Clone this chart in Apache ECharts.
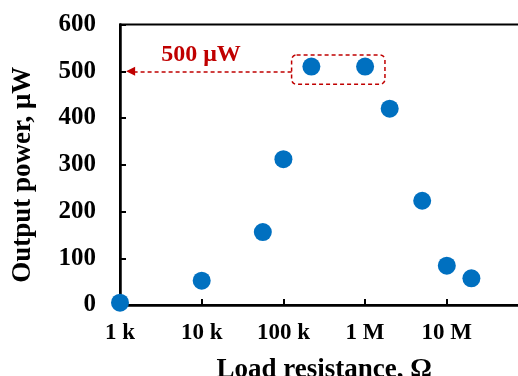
<!DOCTYPE html>
<html><head><meta charset="utf-8">
<script src="https://cdn.jsdelivr.net/npm/echarts@6/dist/echarts.min.js"></script>
<style>html,body{margin:0;padding:0;background:#fff}#c{width:518px;height:376px}</style>
</head><body><div id="c"></div>
<script>
// Data
const resistance = [1e3, 1e4, 5.6e4, 1e5, 2.2e5, 1e6, 2e6, 5e6, 1e7, 2e7];
const power = [5, 52, 156, 312, 510, 510, 420, 223, 84, 57];
const xTickValues = [1e3, 1e4, 1e5, 1e6, 1e7];
const xTickLabels = ['1 k', '10 k', '100 k', '1 M', '10 M'];
const yTickLabels = ['0', '100', '200', '300', '400', '500', '600'];
const annotationText = '500 \u03bcW';
const annotationLevel = 500;
const boxRange = { x: [1.26e5, 1.75e6], y: [472, 535] };
const arrowRange = [1.26e5, 1.35e3];
const textAnchor = [9.8e3, 535];

const font = 'Liberation Serif, Times New Roman, serif';
const red = '#C00000';
const chart = echarts.init(document.getElementById('c'), null, { renderer: 'canvas' });

chart.setOption({
  animation: false,
  backgroundColor: '#fff',
  grid: { left: 120, top: 24.5, width: 408.5, height: 280.5, show: true, borderColor: '#000', borderWidth: 2, containLabel: false, outerBoundsMode: 'none' },
  xAxis: {
    type: 'log', logBase: 10, min: 1e3, max: 1e8,
    name: 'Load resistance, \u03a9', nameLocation: 'middle', nameGap: 52,
    nameTextStyle: { fontFamily: font, fontWeight: 'bold', fontSize: 27, color: '#000' },
    axisLine: { lineStyle: { color: '#000', width: 2.5 } },
    axisTick: { inside: true, length: 6, lineStyle: { color: '#000', width: 2 } },
    minorTick: { show: false },
    splitLine: { show: false },
    axisLabel: {
      fontFamily: font, fontWeight: 'bold', fontSize: 23, color: '#000', margin: 17, showMaxLabel: false,
      formatter: v => { const i = xTickValues.findIndex(t => Math.abs(Math.log10(t) - Math.log10(v)) < 1e-6); return i >= 0 ? xTickLabels[i] : ''; }
    }
  },
  yAxis: {
    type: 'value', min: 0, max: 600, interval: 100,
    name: 'Output power, \u03bcW', nameLocation: 'middle', nameGap: 83,
    nameTextStyle: { fontFamily: font, fontWeight: 'bold', fontSize: 27, color: '#000', padding: [0, 20, 0, 0] },
    axisLine: { show: true, lineStyle: { color: '#000', width: 2.5 } },
    axisTick: { show: true, inside: true, length: 6, lineStyle: { color: '#000', width: 2 } },
    splitLine: { show: false },
    axisLabel: {
      fontFamily: font, fontWeight: 'bold', fontSize: 25, color: '#000', margin: 24,
      formatter: v => yTickLabels[Math.round(v / 100)]
    }
  },
  series: [{
    type: 'scatter',
    data: resistance.map((r, i) => [r, power[i]]),
    symbolSize: 18,
    clip: false,
    itemStyle: { color: '#0070C0', opacity: 1 },
    z: 5,
    markLine: {
      silent: true,
      symbol: ['none', 'triangle'],
      symbolSize: [9, 9],
      label: { show: false },
      lineStyle: { color: red, type: [4, 3], width: 1.5 },
      data: [[{ coord: [arrowRange[0], annotationLevel] }, { coord: [arrowRange[1], annotationLevel] }]]
    }
  }]
});

const p1 = chart.convertToPixel({ gridIndex: 0 }, [boxRange.x[0], boxRange.y[1]]);
const p2 = chart.convertToPixel({ gridIndex: 0 }, [boxRange.x[1], boxRange.y[0]]);
const pt = chart.convertToPixel({ gridIndex: 0 }, textAnchor);
chart.setOption({
  graphic: [
    { type: 'rect', shape: { x: p1[0], y: p1[1], width: p2[0] - p1[0], height: p2[1] - p1[1], r: 5 },
      style: { fill: 'none', stroke: red, lineWidth: 1.5, lineDash: [4, 3] }, z: 10 },
    { type: 'text', x: pt[0], y: pt[1],
      style: { text: annotationText, fill: red, font: 'bold 24px ' + font, textAlign: 'center', textVerticalAlign: 'middle' }, z: 10 }
  ]
});
</script></body></html>
